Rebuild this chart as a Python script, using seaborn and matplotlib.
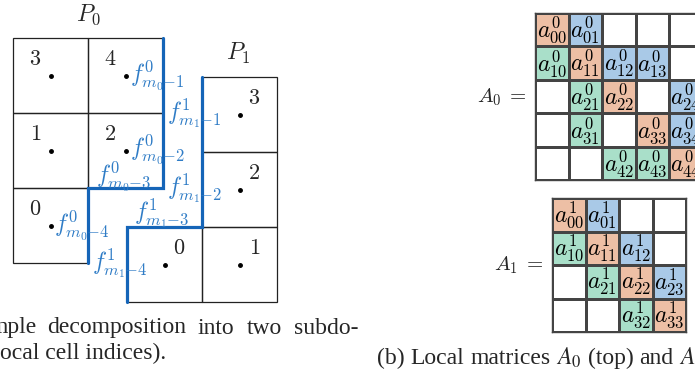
import numpy as np
import matplotlib
matplotlib.use("Agg")
import matplotlib.pyplot as plt
import seaborn as sns
from matplotlib.colors import ListedColormap
from matplotlib.patches import Rectangle

# ---- data ---------------------------------------------------------------
# cells of each subdomain, (column, row from bottom), in local index order
p0_cells = [(0, 0), (0, 1), (1, 1), (0, 2), (1, 2)]
p1_cells = [(0, 0), (1, 0), (1, 1), (1, 2)]
# interface (blue) path, in cell-corner units
p0_boundary = [(2, 3), (2, 1), (1, 1), (1, 0)]
p1_boundary = [(1, 3), (1, 1), (0, 1), (0, 0)]
# boundary face labels
p0_faces = [r"$f^0_{m_0{-}1}$", r"$f^0_{m_0{-}2}$", r"$f^0_{m_0{-}3}$", r"$f^0_{m_0{-}4}$"]
p1_faces = [r"$f^1_{m_1{-}1}$", r"$f^1_{m_1{-}2}$", r"$f^1_{m_1{-}3}$", r"$f^1_{m_1{-}4}$"]

# nonzero pattern of the local matrices
a0_nonzeros = [(0, 0), (0, 1), (1, 0), (1, 1), (1, 2), (1, 3), (2, 1), (2, 2),
               (2, 4), (3, 1), (3, 3), (3, 4), (4, 2), (4, 3), (4, 4)]
a1_nonzeros = [(0, 0), (0, 1), (1, 0), (1, 1), (1, 2), (2, 1), (2, 2), (2, 3),
               (3, 2), (3, 3)]

caption_a1 = ["mple", "decomposition", "into", "two", "subdo-"]
caption_a2 = "ocal cell indices)."
caption_b = ["(b)", "Local", "matrices", "$A_0$", "(top)", "and", "$A_1$", "(bottom)."]

# ---- style --------------------------------------------------------------
sns.set_style("white")
plt.rcParams["mathtext.fontset"] = "cm"
plt.rcParams["font.family"] = ["Liberation Serif", "DejaVu Serif"]

CELL = 75
BLUE_LINE = "#1565b8"
BLUE_TEXT = "#2f7cc6"
ORANGE = "#edbfa5"
BLUE = "#a9c9e7"
GREEN = "#a9dfc9"
CAP = 17

fig = plt.figure(figsize=(6.95, 3.77), dpi=100)
ax = fig.add_axes([0, 0, 1, 1])
ax.set_xlim(0, 695)
ax.set_ylim(377, 0)
ax.axis("off")


def to_px(origin, c, r):
    return origin[0] + CELL * c, origin[1] - CELL * r


def draw_domain(cells, boundary, origin, num_dx):
    for k, (c, r) in enumerate(cells):
        x, y = to_px(origin, c, r)
        ax.add_patch(Rectangle((x, y - CELL), CELL, CELL, fill=False,
                               edgecolor="#222222", lw=0.9))
        cx, cy = x + CELL / 2, y - CELL / 2
        ax.plot(cx, cy, "o", color="black", ms=2.5)
        ax.text(cx + num_dx, cy - 15, f"${k}$", fontsize=16,
                ha="center", va="center")
    pts = np.array([to_px(origin, c, r) for c, r in boundary])
    ax.plot(pts[:, 0], pts[:, 1], color=BLUE_LINE, lw=2.3,
            solid_joinstyle="miter", zorder=3)


draw_domain(p0_cells, p0_boundary, (13, 263), -15)
draw_domain(p1_cells, p1_boundary, (127, 302), 15)

ax.text(88, 15, r"$P_0$", fontsize=17, ha="center", va="center")
ax.text(238, 53, r"$P_1$", fontsize=17, ha="center", va="center")

p0_face_pos = [(130, 75), (130, 149), (96, 176), (54, 225)]
p1_face_pos = [(167, 113), (167, 188), (134, 213), (92, 263)]
for lab, (x, y) in zip(p0_faces + p1_faces, p0_face_pos + p1_face_pos):
    ax.text(x, y, lab, fontsize=17, color=BLUE_TEXT, ha="left", va="center")


# ---- local matrices -----------------------------------------------------
def matrix_frame(nonzeros, n, k):
    codes = np.zeros((n, n))
    labels = np.full((n, n), "", dtype=object)
    for i, j in nonzeros:
        codes[i, j] = 1 if i == j else (2 if j > i else 3)
        labels[i, j] = f"$a^{{{k}}}_{{{i}{j}}}$"
    return codes, labels


cmap = ListedColormap(["white", ORANGE, BLUE, GREEN])
SIZE = 33.5


def draw_matrix(nonzeros, n, k, left, top, name):
    codes, labels = matrix_frame(nonzeros, n, k)
    w = n * SIZE
    max_ = fig.add_axes([left / 695, (377 - top - w) / 377, w / 695, w / 377])
    sns.heatmap(codes, ax=max_, cmap=cmap, vmin=-0.5, vmax=3.5, cbar=False,
                annot=labels, fmt="", linewidths=1.0, linecolor="#444444",
                annot_kws={"fontsize": 17, "color": "black"},
                xticklabels=False, yticklabels=False, square=False)
    for s in max_.spines.values():
        s.set_visible(True)
        s.set_color("#444444")
        s.set_linewidth(1.0)
    ax.text(left - 8, top + w / 2, name, fontsize=15, ha="right", va="center")


draw_matrix(a0_nonzeros, 5, 0, 535, 13, r"$A_0\;=$")
draw_matrix(a1_nonzeros, 4, 1, 552, 198, r"$A_1\;=$")

# ---- captions -----------------------------------------------------------
# first line of (a) is justified: place words one by one
word_x = [37, 47, 198, 247, 294]
for w, x in zip(caption_a1, word_x):
    ax.text(x, 328, w, fontsize=CAP, va="center",
            ha="right" if w == caption_a1[0] else "left")
ax.text(0, 353, caption_a2, fontsize=CAP, ha="left", va="center")

# (b) caption: plain words in the serif font, math in STIX, laid out in a row
renderer = fig.canvas.get_renderer()
x = 377
space = 0.25 * CAP * 100 / 72
for w in caption_b:
    t = ax.text(x, 358, w, fontsize=CAP, ha="left", va="center",
                math_fontfamily="stix")
    x += t.get_window_extent(renderer).width + space

fig.savefig("out.png", dpi=100)
